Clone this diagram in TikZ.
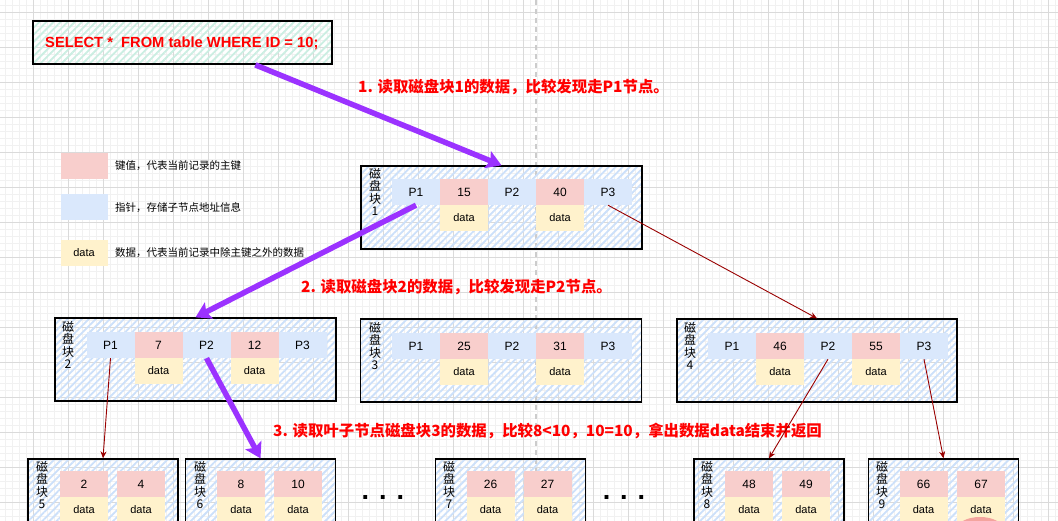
\documentclass[tikz,border=0pt]{standalone}
\usepackage{fontspec}
\setmainfont{Liberation Sans}
\newfontfamily\cjk{Noto Sans CJK SC}
\usetikzlibrary{arrows.meta,patterns.meta,calc}
\definecolor{keypink}{HTML}{F8CECC}
\definecolor{ptrblue}{HTML}{DAE8FC}
\definecolor{datayel}{HTML}{FFF2CC}
\definecolor{hatchblue}{HTML}{CCE0FA}
\definecolor{hatchgreen}{HTML}{CBEEE2}
\definecolor{purp}{RGB}{155,50,255}
\definecolor{darkred}{HTML}{990000}
\definecolor{minorg}{HTML}{F1F1F1}
\definecolor{majorg}{HTML}{DADADA}
\definecolor{salmon}{HTML}{F4A49E}
\begin{document}
\begin{tikzpicture}[x=1pt,y=-1pt,
  cell/.style={minimum width=48pt,minimum height=26pt,inner sep=0pt,text=black,font=\fontsize{12}{14}\selectfont},
  keycell/.style={cell,fill=keypink},
  ptrcell/.style={cell,fill=ptrblue},
  datacell/.style={cell,fill=datayel,font=\fontsize{11}{13}\selectfont},
  block/.style={draw=black,line width=1.3pt,pattern={Lines[angle=45,distance=5pt,line width=1.8pt]},pattern color=hatchblue,inner sep=0pt,minimum height=83pt},
  leafblock/.style={block,minimum width=150pt},
  disklbl/.style={align=center,inner sep=0pt,font=\cjk\fontsize{12}{12.2}\selectfont},
  steplbl/.style={anchor=west,inner sep=0pt,text=red,font=\cjk\bfseries\fontsize{15.4}{17}\selectfont},
  legtxt/.style={anchor=west,inner sep=0pt,font=\cjk\fontsize{10.5}{12}\selectfont},
  bigarrow/.style={draw=purp,line width=5.5pt,-{Stealth[length=15pt,width=18pt,inset=3pt]}},
  ptrarrow/.style={draw=darkred,line width=0.9pt,-{Stealth[length=7pt,width=6pt]}},
  dotsnode/.style={anchor=base,inner sep=0pt,font=\bfseries\fontsize{27}{29}\selectfont}
]
\useasboundingbox (0,0) rectangle (1058,521);
\clip (0,0) rectangle (1058,521);
\fill[white] (0,0) rectangle (1058,521);
% grid
\foreach \i in {0,...,151} \draw[minorg,line width=0.6pt] ({5+7*\i},0) -- ({5+7*\i},521);
\foreach \i in {0,...,75} \draw[minorg,line width=0.6pt] (0,{5.5+7*\i}) -- (1058,{5.5+7*\i});
\foreach \i in {-1,...,29} \draw[majorg,line width=0.8pt] ({33+35*\i},0) -- ({33+35*\i},521);
\foreach \i in {0,...,14} \draw[majorg,line width=0.8pt] (0,{12.5+35*\i}) -- (1058,{12.5+35*\i});
\draw[black!20,line width=1.2pt,dash pattern=on 5pt off 4pt] (536,0) -- (536,521);

% SQL box
\node[draw=black,line width=1.3pt,pattern={Lines[angle=45,distance=5pt,line width=1.8pt]},pattern color=hatchgreen,minimum width=299pt,minimum height=43pt,inner sep=0pt] (sql) at (182.5,42.5) {};
\node[anchor=west,inner sep=0pt,text=red,font=\bfseries\fontsize{14.7}{16}\selectfont] (sqltxt) at (45,43) {SELECT *\ \ FROM table WHERE ID = 10;};

% legend
\node[keycell,minimum width=47pt] (leg1) at (84,166) {};
\node[legtxt] (leg1t) at (115,166) {键值，代表当前记录的主键};
\node[ptrcell,minimum width=47pt] (leg2) at (84,207) {};
\node[legtxt] (leg2t) at (115,208) {指针，存储子节点地址信息};
\node[datacell,minimum width=47pt] (leg3) at (84,253) {data};
\node[legtxt] (leg3t) at (115,253) {数据，代表当前记录中除主键之外的数据};

% block 1
\node[block,minimum width=281pt] (b1) at (501.5,207.5) {};
\node[disklbl] (b1l) at (375,192) {磁\\盘\\块\\1};
\node[ptrcell] (b1p1) at (416,192) {P1};
\node[keycell] (b1k1) at (464,192) {15};
\node[ptrcell] (b1p2) at (512,192) {P2};
\node[keycell] (b1k2) at (560,192) {40};
\node[ptrcell] (b1p3) at (608,192) {P3};
\node[datacell] (b1d1) at (464,218) {data};
\node[datacell] (b1d2) at (560,218) {data};

% block 2
\node[block,minimum width=281pt] (b2) at (195.5,359.5) {};
\node[disklbl] (b2l) at (68,345) {磁\\盘\\块\\2};
\node[ptrcell] (b2p1) at (110.5,345) {P1};
\node[keycell] (b2k1) at (158.5,345) {7};
\node[ptrcell] (b2p2) at (206.5,345) {P2};
\node[keycell] (b2k2) at (254.5,345) {12};
\node[ptrcell] (b2p3) at (302.5,345) {P3};
\node[datacell] (b2d1) at (158.5,371) {data};
\node[datacell] (b2d2) at (254.5,371) {data};

% block 3
\node[block,minimum width=281pt] (b3) at (501,360.5) {};
\node[disklbl] (b3l) at (375,346) {磁\\盘\\块\\3};
\node[ptrcell] (b3p1) at (416,346) {P1};
\node[keycell] (b3k1) at (464,346) {25};
\node[ptrcell] (b3p2) at (512,346) {P2};
\node[keycell] (b3k2) at (560,346) {31};
\node[ptrcell] (b3p3) at (608,346) {P3};
\node[datacell] (b3d1) at (464,372) {data};
\node[datacell] (b3d2) at (560,372) {data};

% block 4
\node[block,minimum width=280pt] (b4) at (817,360.5) {};
\node[disklbl] (b4l) at (690,346) {磁\\盘\\块\\4};
\node[ptrcell] (b4p1) at (732,346) {P1};
\node[keycell] (b4k1) at (780,346) {46};
\node[ptrcell] (b4p2) at (828,346) {P2};
\node[keycell] (b4k2) at (876,346) {55};
\node[ptrcell] (b4p3) at (924,346) {P3};
\node[datacell] (b4d1) at (780,372) {data};
\node[datacell] (b4d2) at (876,372) {data};

% leaf blocks
\node[leafblock] (b5) at (103,500.5) {};
\node[disklbl] (b5l) at (42,485) {磁\\盘\\块\\5};
\node[keycell] (b5k1) at (84,484) {2};
\node[keycell] (b5k2) at (141,484) {4};
\node[datacell] (b5d1) at (84,510) {data};
\node[datacell] (b5d2) at (141,510) {data};

\node[leafblock] (b6) at (260.5,500.5) {};
\node[disklbl] (b6l) at (200,485) {磁\\盘\\块\\6};
\node[keycell] (b6k1) at (241,484) {8};
\node[keycell] (b6k2) at (298,484) {10};
\node[datacell] (b6d1) at (241,510) {data};
\node[datacell] (b6d2) at (298,510) {data};

\node[leafblock] (b7) at (510.5,500.5) {};
\node[disklbl] (b7l) at (449,485) {磁\\盘\\块\\7};
\node[keycell] (b7k1) at (490.5,484) {26};
\node[keycell] (b7k2) at (547.5,484) {27};
\node[datacell] (b7d1) at (490.5,510) {data};
\node[datacell] (b7d2) at (547.5,510) {data};

\node[leafblock] (b8) at (769,500.5) {};
\node[disklbl] (b8l) at (707,485) {磁\\盘\\块\\8};
\node[keycell] (b8k1) at (749,484) {48};
\node[keycell] (b8k2) at (806,484) {49};
\node[datacell] (b8d1) at (749,510) {data};
\node[datacell] (b8d2) at (806,510) {data};

\node[leafblock] (b9) at (943.5,500.5) {};
\node[disklbl] (b9l) at (882,485) {磁\\盘\\块\\9};
\node[keycell] (b9k1) at (923.5,484) {66};
\node[keycell] (b9k2) at (981,484) {67};
\node[datacell] (b9d1) at (923.5,510) {data};
\node[datacell] (b9d2) at (981,510) {data};
\fill[salmon] (980,529) ellipse [x radius=23,y radius=12];

\node[dotsnode] (dots1) at (383,499) {. . .};
\node[dotsnode] (dots2) at (624,499) {. . .};

% step labels
\node[steplbl] (s1) at (358,87) {1. 读取磁盘块1的数据，比较发现走P1节点。};
\node[steplbl] (s2) at (301,287) {2. 读取磁盘块2的数据，比较发现走P2节点。};
\node[steplbl] (s3) at (273,431) {3. 读取叶子节点磁盘块3的数据，比较8<10，10=10，拿出数据data结束并返回};

% connectors
\draw[ptrarrow] (b1p3.south) -- (b4.north);
\draw[ptrarrow] (b2p1.south) -- (b5.north);
\draw[ptrarrow] (b4p2.south) -- (b8.north);
\draw[ptrarrow] (b4p3.south) -- (b9.north);
\draw[bigarrow] ($(sql.south west)!0.742!(sql.south east)$) -- (b1.north);
\draw[bigarrow] (b1p1.south) -- (b2.north);
\draw[bigarrow] (b2p2.south) -- (b6.north);
\end{tikzpicture}
\end{document}
